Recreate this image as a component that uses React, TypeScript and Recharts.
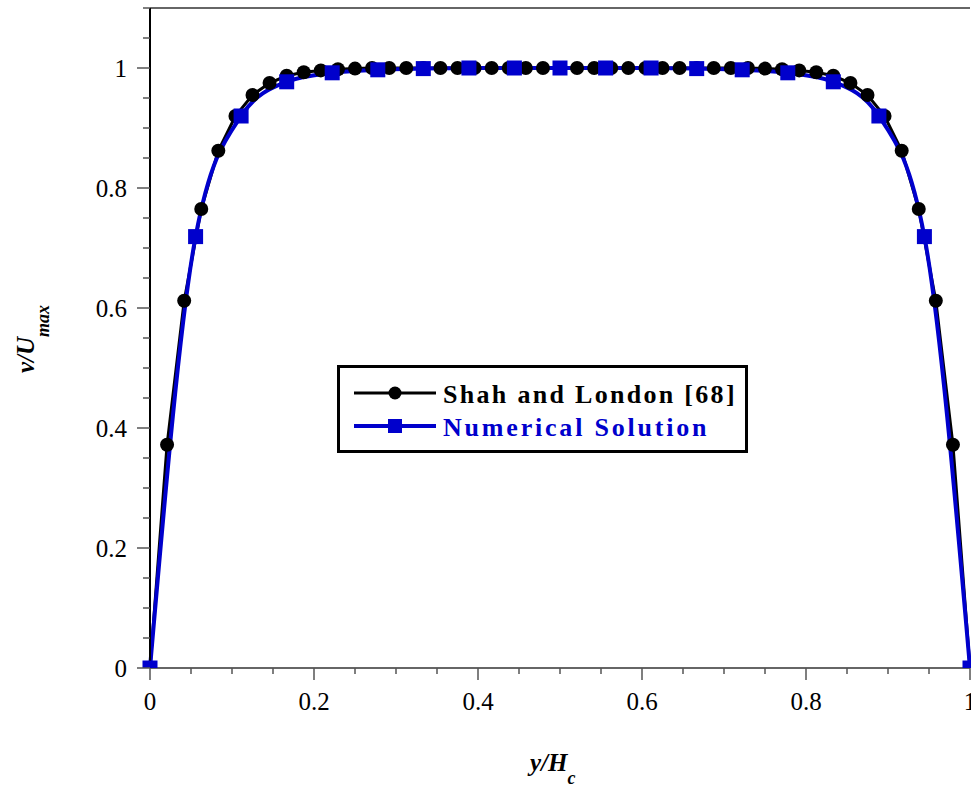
import {
  LineChart,
  Line,
  XAxis,
  YAxis,
  Legend,
  ReferenceLine,
} from "recharts";

// Shah and London [68] (black circles)
const shahX = [
  0, 0.0208, 0.0417, 0.0625, 0.0833, 0.1042, 0.125, 0.1458, 0.1667, 0.1875,
  0.2083, 0.2292, 0.25, 0.2708, 0.2917, 0.3125, 0.3333, 0.3542, 0.375, 0.3958,
  0.4167, 0.4375, 0.4583, 0.4792, 0.5, 0.5208, 0.5417, 0.5625, 0.5833, 0.6042,
  0.625, 0.6458, 0.6667, 0.6875, 0.7083, 0.7292, 0.75, 0.7708, 0.7917, 0.8125,
  0.8333, 0.8542, 0.875, 0.8958, 0.9167, 0.9375, 0.9583, 0.9792, 1,
];
const shahV = [
  0, 0.372, 0.612, 0.765, 0.862, 0.92, 0.955, 0.975, 0.987, 0.993, 0.996,
  0.998, 0.999, 1, 1, 1, 1, 1, 1, 1, 1, 1, 1, 1, 1, 1, 1, 1, 1, 1, 1, 1, 1, 1,
  1, 1, 0.999, 0.998, 0.996, 0.993, 0.987, 0.975, 0.955, 0.92, 0.862, 0.765,
  0.612, 0.372, 0,
];

// Numerical Solution (blue squares)
const numX = [
  0, 0.0556, 0.1111, 0.1667, 0.2222, 0.2778, 0.3333, 0.3889, 0.4444, 0.5,
  0.5556, 0.6111, 0.6667, 0.7222, 0.7778, 0.8333, 0.8889, 0.9444, 1,
];
const numV = [
  0, 0.719, 0.92, 0.977, 0.992, 0.997, 0.999, 1, 1, 1, 1, 1, 0.999, 0.997,
  0.992, 0.977, 0.92, 0.719, 0,
];

const xTicks = [
  0, 0.05, 0.1, 0.15, 0.2, 0.25, 0.3, 0.35, 0.4, 0.45, 0.5, 0.55, 0.6, 0.65,
  0.7, 0.75, 0.8, 0.85, 0.9, 0.95, 1,
];
const yTicks = [
  0, 0.05, 0.1, 0.15, 0.2, 0.25, 0.3, 0.35, 0.4, 0.45, 0.5, 0.55, 0.6, 0.65,
  0.7, 0.75, 0.8, 0.85, 0.9, 0.95, 1, 1.05, 1.1,
];

const shahData = shahX.map((x, i) => ({ x, v: shahV[i] }));
const numData = numX.map((x, i) => ({ x, v: numV[i] }));

const SERIF = "'Liberation Serif', 'DejaVu Serif', serif";
const BLUE = "#0000cc";

const isMajor = (v: number) => Math.round(v * 100) % 20 === 0 && v <= 1.0001;
const fmt = (v: number) => (Math.abs(v - 1) < 1e-6 ? "1" : v === 0 ? "0" : v.toFixed(1));

const XTick = (props: any) => {
  const { x, y, payload } = props;
  const major = isMajor(payload.value);
  return (
    <g>
      <line x1={x} x2={x} y1={y} y2={y + (major ? 12 : 6)} stroke="#555" strokeWidth={1.5} />
      {major && (
        <text x={x} y={y + 42} textAnchor="middle" fontFamily={SERIF} fontSize={25} fill="#000">
          {fmt(payload.value)}
        </text>
      )}
    </g>
  );
};

const YTick = (props: any) => {
  const { x, y, payload } = props;
  const major = isMajor(payload.value);
  return (
    <g>
      <line x1={x} x2={x - (major ? 13 : 7)} y1={y} y2={y} stroke="#555" strokeWidth={1.5} />
      {major && (
        <text x={x - 23} y={y} dy="0.36em" textAnchor="end" fontFamily={SERIF} fontSize={25} fill="#000">
          {fmt(payload.value)}
        </text>
      )}
    </g>
  );
};

const XTitle = () => (
  <text x={530} y={771} fontFamily={SERIF} fontSize={25} fontWeight="bold" fontStyle="italic" fill="#000">
    y/H
    <tspan dy={13} fontSize={18}>c</tspan>
  </text>
);

const YTitle = () => (
  <text
    transform="rotate(-90)"
    x={-373}
    y={34}
    fontFamily={SERIF}
    fontSize={25}
    fontWeight="bold"
    fontStyle="italic"
    fill="#000"
  >
    v/U
    <tspan dy={15} fontSize={18}>max</tspan>
  </text>
);

const Square = (props: any) => {
  const { cx, cy, index } = props;
  return <rect key={`sq-${index}`} x={cx - 7.5} y={cy - 7.5} width={15} height={15} fill={BLUE} />;
};

const LegendBox = () => (
  <svg width={411} height={88}>
    <rect x={1.5} y={1.5} width={408} height={85} fill="#fff" stroke="#000" strokeWidth={3} />
    <line x1={17} x2={99} y1={28} y2={28} stroke="#000" strokeWidth={3} />
    <circle cx={58} cy={28} r={6.5} fill="#000" />
    <text x={106} y={38} fontFamily={SERIF} fontSize={26} fontWeight="bold" letterSpacing={2.3} fill="#000">
      Shah and London [68]
    </text>
    <line x1={17} x2={99} y1={61} y2={61} stroke={BLUE} strokeWidth={4} />
    <rect x={51} y={54} width={14} height={14} fill={BLUE} />
    <text x={106} y={71} fontFamily={SERIF} fontSize={26} fontWeight="bold" letterSpacing={2.8} fill={BLUE}>
      Numerical Solution
    </text>
  </svg>
);

export default function App() {
  return (
    <div
      style={{
        position: "fixed",
        left: 0,
        top: 0,
        width: 971,
        height: 789,
        overflow: "hidden",
        background: "#fff",
      }}
    >
      <LineChart width={990} height={789} margin={{ top: 8, right: 20, left: 0, bottom: 0 }}>
        <XAxis
          dataKey="x"
          type="number"
          domain={[0, 1]}
          ticks={xTicks}
          interval={0}
          height={121}
          tickSize={0}
          tickMargin={0}
          tickLine={false}
          tick={<XTick />}
          axisLine={{ stroke: "#666", strokeWidth: 2 }}
          label={XTitle}
          allowDuplicatedCategory={false}
        />
        <YAxis
          dataKey="v"
          type="number"
          domain={[0, 1.1]}
          ticks={yTicks}
          interval={0}
          width={150}
          tickSize={0}
          tickMargin={0}
          tickLine={false}
          tick={<YTick />}
          axisLine={{ stroke: "#000", strokeWidth: 2 }}
          label={YTitle}
          allowDataOverflow
        />
        <ReferenceLine y={1.1} stroke="#666" strokeWidth={2} />
        <Legend
          layout="vertical"
          align="center"
          verticalAlign="middle"
          content={LegendBox}
          wrapperStyle={{ position: "absolute", left: 337, top: 365, width: 411, height: 88 }}
        />
        <Line
          data={shahData}
          dataKey="v"
          name="Shah and London [68]"
          type="linear"
          stroke="#000"
          strokeWidth={3}
          dot={{ r: 7, fill: "#000", stroke: "none" }}
          activeDot={false}
          isAnimationActive={false}
        />
        <Line
          data={numData}
          dataKey="v"
          name="Numerical Solution"
          type="monotone"
          stroke={BLUE}
          strokeWidth={4}
          dot={Square}
          activeDot={false}
          isAnimationActive={false}
        />
      </LineChart>
    </div>
  );
}
